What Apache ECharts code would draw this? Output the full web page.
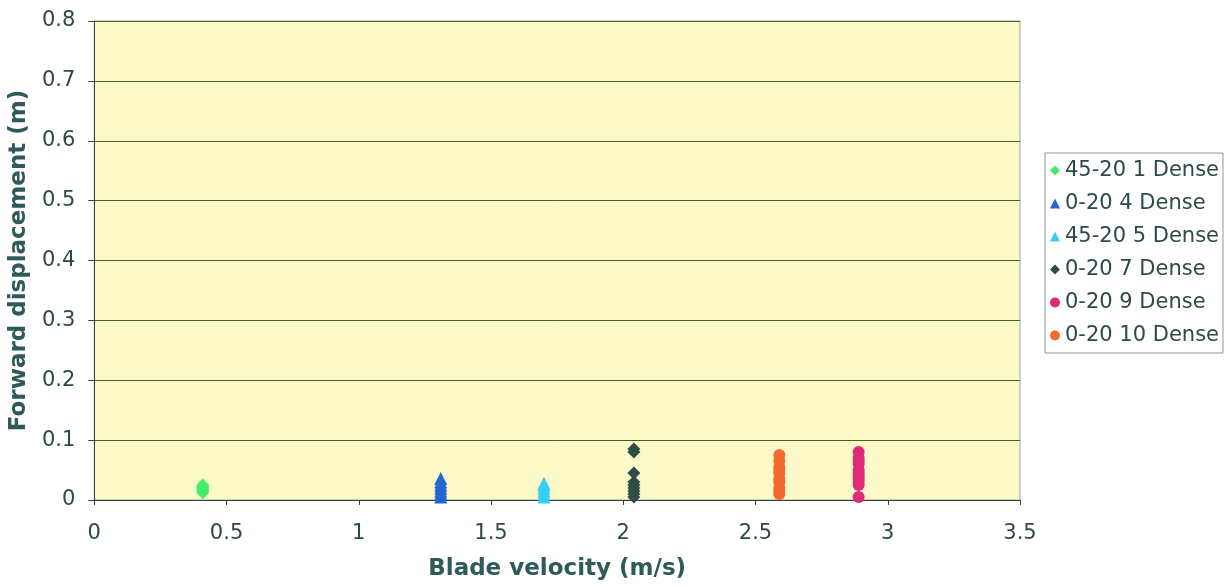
<!DOCTYPE html>
<html>
<head>
<meta charset="utf-8">
<script src="https://cdn.jsdelivr.net/npm/echarts@6/dist/echarts.min.js"></script>
<style>
html,body{margin:0;padding:0;background:#fff;}
#c{width:1232px;height:587px;}
</style>
</head>
<body>
<div id="c"></div>
<script>
const seriesNames = ['45-20 1 Dense','0-20 4 Dense','45-20 5 Dense','0-20 7 Dense','0-20 9 Dense','0-20 10 Dense'];
const xPositions = [0.41, 1.31, 1.70, 2.04, 2.89, 2.59];
const s1 = [0.012, 0.015, 0.018, 0.020, 0.022, 0.025];
const s4 = [0.005, 0.010, 0.015, 0.020, 0.025, 0.030, 0.036];
const s5 = [0.005, 0.010, 0.015, 0.020, 0.025, 0.028];
const s7 = [0.085, 0.080, 0.045, 0.030, 0.025, 0.020, 0.015, 0.010, 0.005];
const s9 = [0.080, 0.070, 0.065, 0.060, 0.050, 0.045, 0.040, 0.035, 0.030, 0.025, 0.005];
const s10 = [0.075, 0.065, 0.055, 0.050, 0.045, 0.035, 0.030, 0.020, 0.015, 0.010];
const allValues = [s1, s4, s5, s7, s9, s10];
const symbols = ['diamond','triangle','triangle','diamond','circle','circle'];
const colors = ['#45ec6a','#2467cf','#35d0f0','#2f4d48','#de2a78','#f46a2e'];
const xTicks = [0, 0.5, 1, 1.5, 2, 2.5, 3, 3.5];
const yTicks = [0, 0.1, 0.2, 0.3, 0.4, 0.5, 0.6, 0.7, 0.8];

const textColor = '#2c4a4a';
const font = 'DejaVu Sans, sans-serif';
const chart = echarts.init(document.getElementById('c'));
const series = seriesNames.map((n, i) => ({
  name: n,
  type: 'scatter',
  symbol: symbols[i],
  symbolSize: symbols[i] === 'circle' ? 12 : 13,
  itemStyle: {color: colors[i], opacity: 1},
  data: allValues[i].map(v => [xPositions[i], v])
}));
chart.setOption({
  animation: false,
  backgroundColor: '#ffffff',
  grid: {left: 92, right: 212, top: 21, bottom: 87, show: true, backgroundColor: '#fcf9c9', borderColor: '#9aa6a0', borderWidth: 1},
  legend: {
    orient: 'vertical', left: 1045, top: 153, width: 183,
    data: seriesNames,
    padding: [7, 4, 7, 5], itemGap: 12,
    borderColor: '#8a9a98', borderWidth: 1,
    itemWidth: 10, itemHeight: 10,
    textStyle: {fontFamily: font, fontSize: 21, color: textColor}
  },
  xAxis: {
    type: 'value', min: 0, max: 3.5, interval: 0.5,
    name: 'Blade velocity (m/s)', nameLocation: 'middle', nameGap: 58,
    nameTextStyle: {fontFamily: font, fontSize: 23, fontWeight: 'bold', color: '#2e5a58'},
    axisLine: {show: true, lineStyle: {color: '#33443e', width: 1}},
    axisTick: {show: true, inside: false, length: 5, lineStyle: {color: '#33443e'}},
    axisLabel: {fontFamily: font, fontSize: 21, color: textColor, margin: 23,
      formatter: v => (xTicks.includes(v) ? String(v) : '')},
    splitLine: {show: false}
  },
  yAxis: {
    type: 'value', min: 0, max: 0.8, interval: 0.1,
    name: 'Forward displacement (m)', nameLocation: 'middle', nameGap: 58, nameRotate: 90,
    nameTextStyle: {fontFamily: font, fontSize: 23, fontWeight: 'bold', color: '#2e5a58'},
    axisLine: {show: true, lineStyle: {color: '#33443e', width: 1}},
    axisTick: {show: true, inside: false, length: 6, lineStyle: {color: '#33443e'}},
    axisLabel: {fontFamily: font, fontSize: 21, color: textColor, margin: 19,
      formatter: v => { const t = yTicks.find(y => Math.abs(y - v) < 1e-9); return t === undefined ? '' : (t === 0 ? '0' : t.toFixed(1)); }},
    splitLine: {show: true, lineStyle: {color: '#4e5e2a', width: 1}}
  },
  series: series
});
</script>
</body>
</html>
